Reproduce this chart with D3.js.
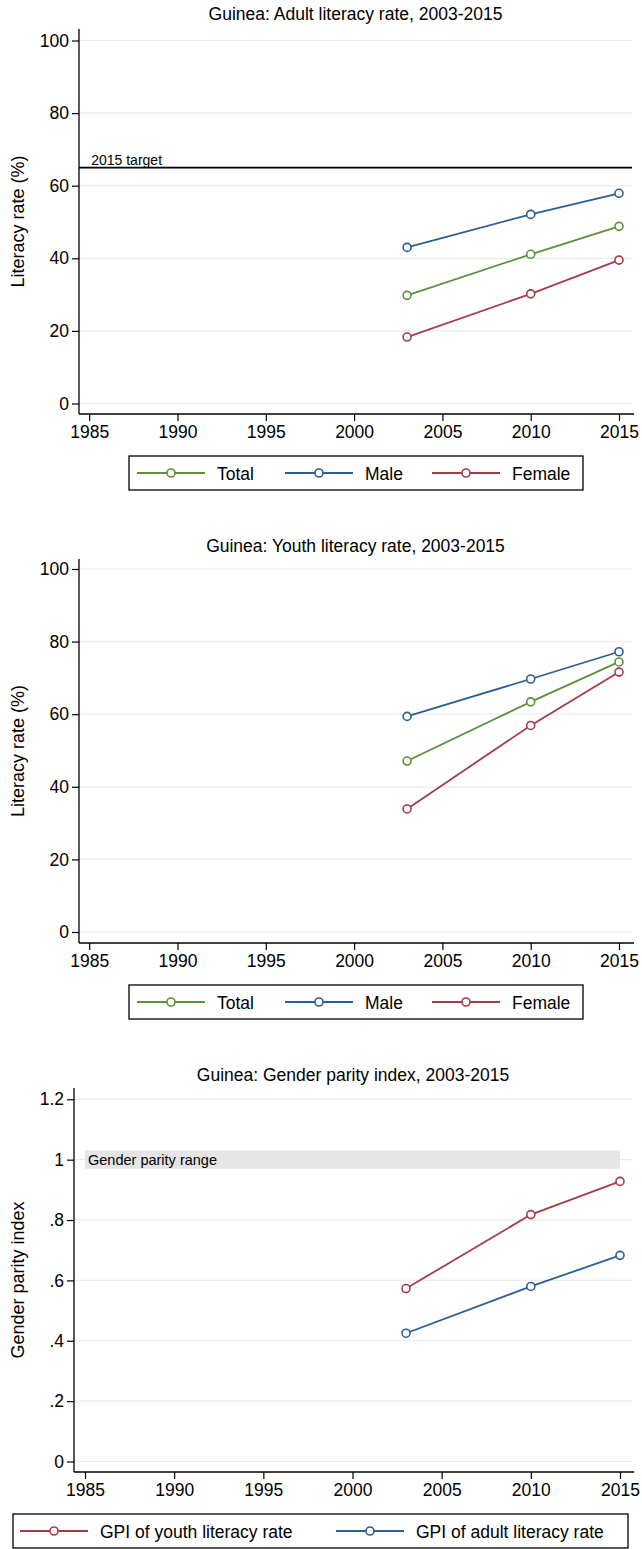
<!DOCTYPE html>
<html>
<head>
<meta charset="utf-8">
<script src="https://cdn.jsdelivr.net/npm/d3@7"></script>
<style>
  html, body { margin: 0; padding: 0; background: #fff; }
  svg { display: block; }
  text { font-family: "Liberation Sans", Arial, sans-serif; fill: #000; }
</style>
</head>
<body>
<svg id="chart" width="642" height="1549"></svg>
<script>
// ---------- data ----------
const years = [2003, 2010, 2015];
const adultTotal  = [29.8, 41.1, 48.8];
const adultMale   = [43.0, 52.1, 57.9];
const adultFemale = [18.3, 30.2, 39.5];
const youthTotal  = [47.1, 63.4, 74.4];
const youthMale   = [59.4, 69.7, 77.2];
const youthFemale = [33.9, 56.9, 71.6];
const gpiYouth = [0.573, 0.818, 0.928];
const gpiAdult = [0.425, 0.580, 0.683];
const xTicks = [1985, 1990, 1995, 2000, 2005, 2010, 2015];
const rateTicks = [0, 20, 40, 60, 80, 100];
const gpiTicks = [0, 0.2, 0.4, 0.6, 0.8, 1, 1.2];
const target2015 = 65;
const parityRange = [0.97, 1.03];
const titles = ["Guinea: Adult literacy rate, 2003-2015",
                "Guinea: Youth literacy rate, 2003-2015",
                "Guinea: Gender parity index, 2003-2015"];

const GREEN = "#5f8f3b", BLUE = "#2b5f92", RED = "#a53c47";
const FS = 17.5;

const svg = d3.select("#chart");

function drawPanel(cfg) {
  const g = svg.append("g");
  const x = d3.scaleLinear().domain([1985, 2015]).range(cfg.xRange);
  const y = d3.scaleLinear().domain(cfg.yDomain).range(cfg.yRange);

  // title
  g.append("text").attr("x", (cfg.left + cfg.right) / 2).attr("y", cfg.titleY)
    .attr("text-anchor", "middle").attr("font-size", FS).text(cfg.title);

  // gridlines
  g.selectAll(".grid").data(cfg.yTicks).enter().append("line")
    .attr("x1", cfg.left).attr("x2", cfg.right)
    .attr("y1", d => y(d)).attr("y2", d => y(d))
    .attr("stroke", "#ececec").attr("stroke-width", 1.2);

  if (cfg.band) {
    g.append("rect").attr("x", x(1985)).attr("width", x(2015) - x(1985))
      .attr("y", y(cfg.band[1])).attr("height", y(cfg.band[0]) - y(cfg.band[1]))
      .attr("fill", "#e5e5e5");
    g.append("text").attr("x", x(1985) + 3).attr("y", y(1) + 5)
      .attr("font-size", 14.5).text("Gender parity range");
  }
  if (cfg.target !== undefined) {
    g.append("line").attr("x1", cfg.left).attr("x2", cfg.right)
      .attr("y1", y(cfg.target)).attr("y2", y(cfg.target))
      .attr("stroke", "#000").attr("stroke-width", 1.8);
    g.append("text").attr("x", x(1985) + 2).attr("y", y(cfg.target) - 3)
      .attr("font-size", 14).text("2015 target");
  }

  // axes
  const yAxis = d3.axisLeft(y).tickValues(cfg.yTicks).tickSize(7).tickPadding(3)
    .tickFormat(cfg.fmt);
  const ya = g.append("g").attr("transform", `translate(${cfg.left},0)`).call(yAxis);
  ya.select(".domain").remove();
  ya.append("line").attr("x1", 0).attr("x2", 0).attr("y1", cfg.top).attr("y2", cfg.bottom)
    .attr("stroke", "#000").attr("stroke-width", 1.3);
  ya.selectAll(".tick line").attr("stroke-width", 1.2);
  ya.selectAll(".tick text").attr("font-size", FS).attr("font-family", "Liberation Sans, Arial, sans-serif").attr("fill", "#000");

  const xAxis = d3.axisBottom(x).tickValues(xTicks).tickSize(7).tickPadding(5)
    .tickFormat(d3.format("d"));
  const xa = g.append("g").attr("transform", `translate(0,${cfg.bottom})`).call(xAxis);
  xa.select(".domain").remove();
  xa.append("line").attr("x1", cfg.left).attr("x2", cfg.right + 2).attr("y1", 0).attr("y2", 0)
    .attr("stroke", "#000").attr("stroke-width", 1.3);
  xa.selectAll(".tick line").attr("stroke-width", 1.2);
  xa.selectAll(".tick text").attr("font-size", FS).attr("font-family", "Liberation Sans, Arial, sans-serif").attr("fill", "#000");

  // y label
  g.append("text").attr("transform", `translate(${cfg.yLabelX},${(cfg.top + cfg.bottom) / 2}) rotate(-90)`)
    .attr("text-anchor", "middle").attr("font-size", 18).text(cfg.yLabel);

  // series
  const line = d3.line().x((d, i) => x(years[i])).y(d => y(d));
  cfg.series.forEach(s => {
    g.append("path").datum(s.values).attr("d", line)
      .attr("fill", "none").attr("stroke", s.color).attr("stroke-width", 1.8);
    g.selectAll(null).data(s.values).enter().append("circle")
      .attr("cx", (d, i) => x(years[i])).attr("cy", d => y(d)).attr("r", 4)
      .attr("fill", "#fff").attr("stroke", s.color).attr("stroke-width", 1.6);
  });

  // legend
  const L = cfg.legend;
  g.append("rect").attr("x", L.x).attr("y", L.y).attr("width", L.w).attr("height", L.h)
    .attr("fill", "#fff").attr("stroke", "#000").attr("stroke-width", 1.3);
  cfg.series.forEach((s, i) => {
    const lx = L.items[i];
    const cy = L.y + L.h / 2;
    g.append("line").attr("x1", lx).attr("x2", lx + 68).attr("y1", cy).attr("y2", cy)
      .attr("stroke", s.color).attr("stroke-width", 1.8);
    g.append("circle").attr("cx", lx + 34).attr("cy", cy).attr("r", 4)
      .attr("fill", "#fff").attr("stroke", s.color).attr("stroke-width", 1.6);
    g.append("text").attr("x", lx + 80).attr("y", cy + 6.5).attr("font-size", FS).text(s.name);
  });
}

const rateFmt = d3.format("d");
const gpiFmt = d => d === 0 ? "0" : String(+d.toFixed(1)).replace(/^0/, "");

drawPanel({
  title: titles[0], titleY: 20, left: 79, right: 632, top: 29, bottom: 414,
  xRange: [89.2, 619], yDomain: [0, 100], yRange: [403.5, 40.5], yTicks: rateTicks,
  fmt: rateFmt, yLabel: "Literacy rate (%)", yLabelX: 24, target: target2015,
  series: [{name: "Total", values: adultTotal, color: GREEN},
           {name: "Male", values: adultMale, color: BLUE},
           {name: "Female", values: adultFemale, color: RED}],
  legend: {x: 129, y: 456, w: 454, h: 34, items: [137, 285, 432]}
});

drawPanel({
  title: titles[1], titleY: 552, left: 79, right: 632, top: 559, bottom: 943,
  xRange: [89.2, 619], yDomain: [0, 100], yRange: [932, 569], yTicks: rateTicks,
  fmt: rateFmt, yLabel: "Literacy rate (%)", yLabelX: 24,
  series: [{name: "Total", values: youthTotal, color: GREEN},
           {name: "Male", values: youthMale, color: BLUE},
           {name: "Female", values: youthFemale, color: RED}],
  legend: {x: 129, y: 985, w: 454, h: 34, items: [137, 285, 432]}
});

drawPanel({
  title: titles[2], titleY: 1081, left: 74, right: 632, top: 1088, bottom: 1472,
  xRange: [85, 620], yDomain: [0, 1.2], yRange: [1461.5, 1099.3], yTicks: gpiTicks,
  fmt: gpiFmt, yLabel: "Gender parity index", yLabelX: 24, band: parityRange,
  series: [{name: "GPI of youth literacy rate", values: gpiYouth, color: RED},
           {name: "GPI of adult literacy rate", values: gpiAdult, color: BLUE}],
  legend: {x: 13, y: 1514, w: 615, h: 34, items: [20, 336]}
});
</script>
</body>
</html>
